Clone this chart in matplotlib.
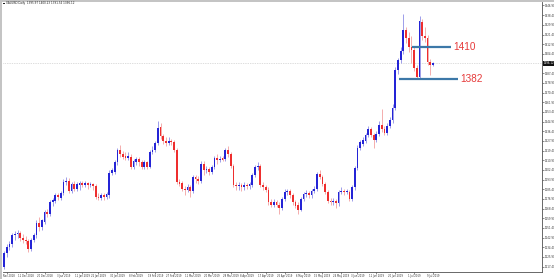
import matplotlib
matplotlib.use('Agg')
import matplotlib.pyplot as plt
from matplotlib.patches import Rectangle
import numpy as np

# ---- data ----
opens = [1217,1229,1235,1237,1245,1246,1247,1243,1241,1240,
         1233,1241,1245,1256,1252,1257,1265,1264,1274,1275,
         1280,1278,1282,1292,1293,1284,1290,1286,1289,1291,
         1289,1291,1289,1290,1288,1279,1278,1280,1279,1280,
         1300,1301,1309,1320,1316,1315,1313,1314,1305,1309,
         1312,1309,1305,1309,1305,1318,1320,1326,1340,1332,
         1328,1326,1328,1327,1320,1292,1291,1286,1285,1287,
         1284,1296,1294,1293,1308,1302,1303,1301,1305,1313,
         1311,1313,1312,1320,1316,1306,1289,1288,1289,1287,
         1289,1288,1289,1298,1305,1306,1289,1287,1285,1274,
         1272,1274,1272,1269,1277,1283,1284,1280,1274,1272,
         1267,1277,1281,1282,1280,1284,1286,1299,1296,1290,
         1283,1275,1274,1275,1273,1283,1284,1283,1283,1277,
         1287,1304,1322,1325,1328,1333,1338,1333,1329,1334,
         1342,1338,1335,1341,1346,1357,1390,1399,1407,1425,
         1418,1410,1408,1392,1384,1432,1420,1418,1397,1395]
highs = [1231,1237,1240,1247,1249,1250,1249,1246,1244,1242,
         1243,1247,1258,1261,1259,1267,1268,1276,1278,1282,
         1282,1284,1294,1296,1295,1292,1293,1292,1293,1293,
         1293,1292,1292,1291,1290,1282,1282,1282,1283,1302,
         1304,1311,1322,1324,1319,1318,1318,1316,1312,1314,
         1314,1311,1311,1310,1320,1323,1328,1345,1344,1334,
         1331,1331,1330,1329,1322,1294,1293,1288,1290,1289,
         1298,1298,1297,1310,1310,1306,1305,1307,1315,1316,
         1315,1315,1322,1323,1318,1308,1292,1292,1291,1292,
         1291,1292,1300,1307,1309,1308,1292,1289,1287,1277,
         1277,1276,1274,1279,1286,1286,1286,1282,1276,1274,
         1279,1283,1285,1284,1286,1288,1301,1302,1298,1292,
         1285,1278,1278,1277,1285,1287,1286,1286,1285,1289,
         1306,1324,1329,1331,1335,1341,1340,1335,1337,1345,
         1356,1341,1344,1349,1360,1393,1401,1410,1439,1428,
         1424,1420,1411,1395,1438,1435,1428,1421,1400,1397]
lows = [1215,1226,1232,1235,1241,1243,1240,1238,1237,1230,
        1231,1239,1243,1249,1250,1255,1261,1262,1271,1273,
        1276,1276,1280,1289,1282,1282,1284,1284,1285,1287,
        1287,1286,1287,1285,1277,1276,1276,1276,1277,1278,
        1298,1299,1307,1314,1312,1311,1311,1303,1303,1307,
        1306,1303,1303,1303,1304,1316,1318,1324,1330,1325,
        1323,1324,1324,1318,1290,1288,1284,1280,1283,1279,
        1282,1291,1290,1291,1298,1300,1298,1299,1303,1308,
        1309,1310,1310,1314,1304,1287,1285,1285,1284,1285,
        1286,1286,1287,1296,1302,1287,1285,1283,1272,1270,
        1270,1270,1264,1267,1275,1280,1278,1272,1269,1264,
        1266,1275,1279,1278,1278,1282,1284,1294,1288,1281,
        1273,1272,1272,1269,1271,1281,1280,1281,1275,1275,
        1285,1302,1320,1323,1326,1331,1331,1322,1327,1332,
        1336,1333,1333,1339,1344,1355,1387,1396,1404,1414,
        1406,1396,1389,1382,1383,1417,1415,1395,1386,1394]
closes = [1229,1235,1237,1245,1246,1247,1243,1241,1240,1233,
          1241,1245,1256,1252,1258,1265,1264,1274,1276,1280,
          1279,1282,1292,1293,1284,1290,1286,1290,1291,1289,
          1291,1289,1290,1288,1279,1278,1280,1279,1281,1300,
          1302,1309,1320,1316,1314,1313,1315,1305,1310,1312,
          1309,1305,1309,1305,1318,1320,1326,1339,1332,1328,
          1326,1328,1327,1320,1292,1290,1286,1285,1287,1284,
          1296,1294,1293,1308,1302,1303,1301,1305,1313,1311,
          1312,1311,1320,1316,1306,1289,1288,1289,1287,1289,
          1288,1290,1298,1305,1306,1289,1287,1285,1274,1272,
          1274,1272,1269,1277,1283,1284,1280,1274,1271,1267,
          1277,1281,1282,1280,1284,1286,1299,1296,1290,1283,
          1275,1274,1275,1273,1283,1284,1283,1284,1277,1287,
          1304,1322,1327,1329,1333,1338,1333,1329,1334,1342,
          1338,1335,1341,1346,1357,1390,1399,1407,1425,1418,
          1410,1408,1392,1384,1433,1420,1418,1397,1395,1396]

y_tick_values = [1446.90,1438.40,1429.90,1421.40,1412.90,1404.40,1395.90,1387.40,
                 1378.90,1370.40,1361.90,1353.40,1344.90,1336.40,1327.90,1319.40,
                 1310.90,1302.40,1293.90,1285.40,1276.90,1268.40,1259.90,1251.40,
                 1242.90,1234.40,1225.90,1217.40]
x_tick_bars = [1, 8, 15, 22, 29, 35, 42, 49, 56, 63, 70, 77, 84, 90, 97, 104,
               111, 118, 125, 131, 138, 145, 152, 159]
x_tick_labels = ["30 Nov 2018", "11 Dec 2018", "20 Dec 2018", "3 Jan 2019",
                 "11 Jan 2019", "22 Jan 2019", "30 Jan 2019", "8 Feb 2019",
                 "19 Feb 2019", "27 Feb 2019", "11 Mar 2019", "20 Mar 2019",
                 "28 Mar 2019", "8 Apr 2019", "17 Apr 2019", "26 Apr 2019",
                 "6 May 2019", "15 May 2019", "24 May 2019", "3 Jun 2019",
                 "11 Jun 2019", "20 Jun 2019", "1 Jul 2019", "9 Jul 2019"]

levels = [1410, 1382]
level_start = [151.2, 146.4]
level_end = [165.7, 168.3]
current_price = 1396.12
title = "XAUUSD,Daily  1395.97 1400.23 1391.54 1396.12"

# ---- figure ----
W, H = 554, 279
fig = plt.figure(figsize=(W / 100, H / 100), dpi=100)
fig.patch.set_facecolor('white')
ax = fig.add_axes([3 / W, 1 - 272 / H, (542 - 3) / W, (272 - 1.5) / H])
ax.set_facecolor('white')

o = np.array(opens, float); h = np.array(highs, float)
l = np.array(lows, float); c = np.array(closes, float)
idx = np.arange(len(c))
up = c >= o
dn = ~up

bull, bear = '#2424d6', '#ee2e2e'
ax.vlines(idx[up], l[up], h[up], color='#8e8ee6', lw=0.6, zorder=2)
ax.vlines(idx[dn], l[dn], h[dn], color='#f2a0a0', lw=0.6, zorder=2)
body = np.maximum(np.abs(c - o), 0.7)
ax.bar(idx[up], body[up], bottom=np.minimum(o, c)[up], width=0.65,
       color=bull, linewidth=0, zorder=3)
ax.bar(idx[dn], body[dn], bottom=np.minimum(o, c)[dn], width=0.65,
       color=bear, linewidth=0, zorder=3)

# current price line
ax.axhline(current_price, color='#bcbcbc', lw=0.5, ls=(0, (1, 1.5)), zorder=1)

# level annotations
ax.hlines(levels, level_start, level_end, color='#3c78a8', lw=1.6, zorder=4)
for lv, xe in zip(levels, level_end):
    ax.text(xe + 0.7, lv, str(lv), color='#e63a3a', fontsize=7.2,
            family='Liberation Sans', va='center', ha='left', zorder=5)

ax.set_xlim(-0.4, 199.4)
ax.set_ylim(1212.7, 1450.4)

# axes styling
for s in ['top', 'left']:
    ax.spines[s].set_visible(False)
for s in ['right', 'bottom']:
    ax.spines[s].set_color('#505050')
    ax.spines[s].set_linewidth(0.6)

ax.yaxis.tick_right()
ax.set_yticks(y_tick_values)
ax.set_yticklabels([f"{v:.2f}" for v in y_tick_values])
ax.tick_params(axis='y', length=1.2, width=0.4, pad=0.6, labelsize=1.9,
               colors='#333333')
ax.set_xticks(x_tick_bars)
ax.set_xticklabels(x_tick_labels)
ax.tick_params(axis='x', length=1.2, width=0.4, pad=0.4, labelsize=1.8,
               colors='#333333')

# price box on the axis
ax.text(1.003, current_price, f"{current_price:.2f}", transform=ax.get_yaxis_transform(),
        fontsize=1.9, color='white', va='center', ha='left', zorder=6,
        bbox=dict(facecolor='#111111', edgecolor='none', pad=0.4), clip_on=False)

# window borders and title
fig.patches.append(Rectangle((0, 1 - 1.5 / H), 1, 1.5 / H, transform=fig.transFigure,
                             facecolor='#c4c4c4', edgecolor='none'))
fig.patches.append(Rectangle((0, 0), 2.2 / W, 1, transform=fig.transFigure,
                             facecolor='#c4c4c4', edgecolor='none'))
fig.patches.append(Rectangle((3 / W, 1 - 4.2 / H), 1.6 / W, 1.6 / H, transform=fig.transFigure,
                             facecolor='#202020', edgecolor='none'))
fig.text(6 / W, 1 - 3.4 / H, title, fontsize=2.0, color='#222222', va='center', ha='left')

fig.savefig('out.png', dpi=100, facecolor='white')
